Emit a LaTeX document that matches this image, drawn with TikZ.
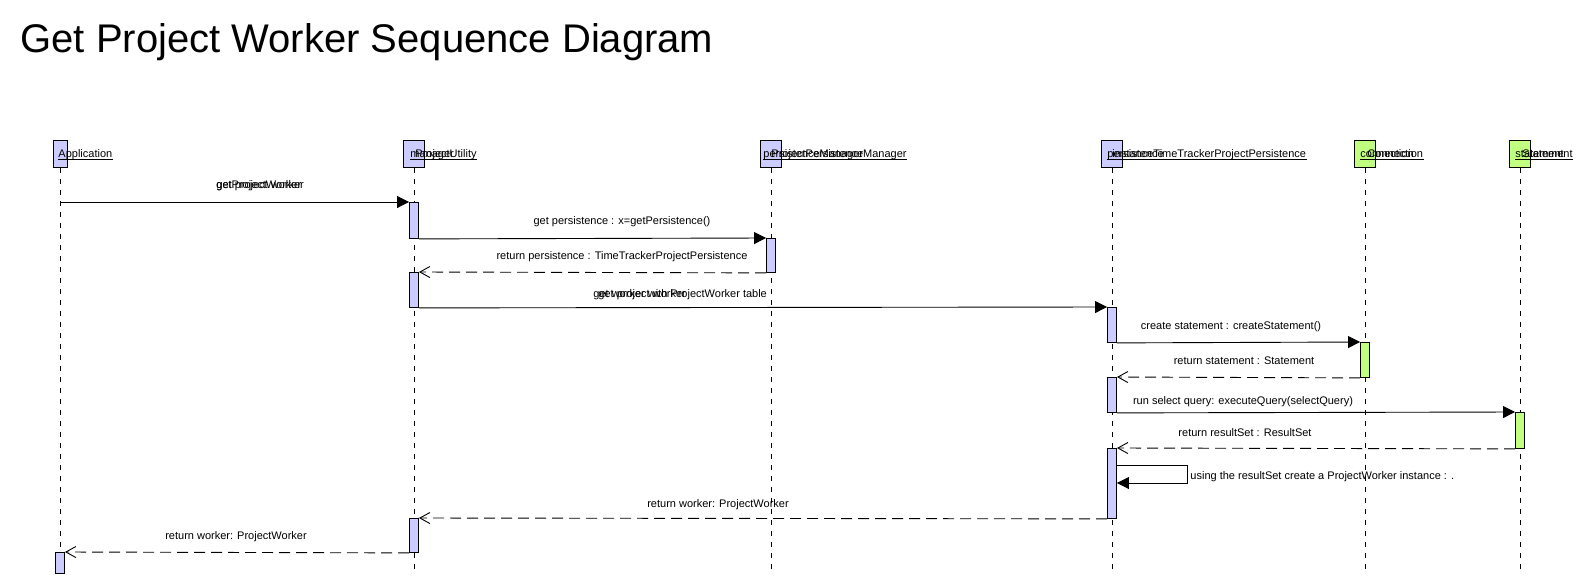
\documentclass[tikz,border=0pt]{standalone}
\usepackage{fontspec}
\setmainfont{Liberation Sans}
\usetikzlibrary{arrows.meta,positioning,calc}
\definecolor{objblue}{RGB}{204,204,255}
\definecolor{objgreen}{RGB}{192,255,128}

\begin{document}
\begin{tikzpicture}[
  x=1pt,y=-1pt,
  font=\fontsize{11}{13}\selectfont,
  line width=0.9pt,
  head/.style={draw,fill=objblue,minimum width=21pt,minimum height=27pt,inner sep=0pt,anchor=north},
  act/.style={draw,fill=objblue,minimum width=9pt,inner sep=0pt,anchor=north},
  life/.style={dash pattern=on 5pt off 6pt},
  hd/.style={anchor=base west,inner sep=0pt},
  lbl/.style={anchor=base,inner sep=0pt},
  call/.style={-{Triangle[length=12pt,width=12pt]}},
  ret/.style={dash pattern=on 11pt off 6pt,-{Straight Barb[length=10pt,width=11pt]}}
]
\useasboundingbox (0,0) rectangle (1580,584);
\node[anchor=base west,inner sep=0pt,font=\fontsize{40}{44}\selectfont] (title) at (20,52)
  {Get Project Worker Sequence Diagram};

% lifeline heads
\node[head,minimum width=14pt] (app) at (60,140) {};
\node[head] (mgr) at (414,140) {};
\node[head] (pm) at (771,140) {};
\node[head] (per) at (1112,140) {};
\node[head,fill=objgreen] (con) at (1365,140) {};
\node[head,fill=objgreen] (st) at (1520,140) {};
\coordinate (bot) at (0,573);
\foreach \n in {app,mgr,pm,per,con,st}
  \draw[life] (\n.south) -- (\n.south |- bot);

% head labels (printed on top of each other)
\node[hd] (appL) at (58,157) {Application};
\node[hd] (mgrL) at (410,157) {manager};
\node[hd] (mgrL2) at (415,157) {ProjectUtility};
\node[hd] (pmL) at (763,157) {persistenceManager};
\node[hd] (pmL2) at (771,157) {ProjectPersistenceManager};
\node[hd] (perL) at (1107,157) {persistence};
\node[hd] (perL2) at (1112,157) {instance};
\node[hd] (perL3) at (1153,157) {TimeTrackerProjectPersistence};
\node[hd] (conL) at (1360,157) {connection};
\node[hd] (conL2) at (1367,157) {Connection};
\node[hd] (stL) at (1515,157) {statement};
\node[hd] (stL2) at (1522,157) {Statement};
\draw[line width=0.7pt] ([yshift=-2pt]appL.base west) -- ([yshift=-2pt]appL.base east);
\draw[line width=0.7pt] ([yshift=-2pt]mgrL.base west) -- ([yshift=-2pt]mgrL2.base east);
\draw[line width=0.7pt] ([yshift=-2pt]pmL.base west) -- ([yshift=-2pt]pmL2.base east);
\draw[line width=0.7pt] ([yshift=-2pt]perL.base west) -- ([yshift=-2pt]perL3.base east);
\draw[line width=0.7pt] ([yshift=-2pt]conL.base west) -- ([yshift=-2pt]conL2.base east);
\draw[line width=0.7pt] ([yshift=-2pt]stL.base west) -- ([yshift=-2pt]stL2.base east);

% activations
\node[act,minimum height=36pt] (m1) at (414,202) {};
\node[act,minimum height=34pt] (pm1) at (771,238) {};
\node[act,minimum height=35pt] (m2) at (414,272) {};
\node[act,minimum height=35pt] (p1) at (1112,307) {};
\node[act,minimum height=35pt,fill=objgreen] (c1) at (1365,342) {};
\node[act,minimum height=35pt] (p2) at (1112,377) {};
\node[act,minimum height=36pt,fill=objgreen] (s1) at (1520,412) {};
\node[act,minimum height=70pt] (p3) at (1112,448) {};
\node[act,minimum height=34pt] (m3) at (414,518) {};
\node[act,minimum height=21pt] (a1) at (60,552) {};
\coordinate (a0) at (60,202);

% messages
\draw[call] (a0) -- (m1.north west);
\node[lbl,anchor=base west] at (216,188) {get project worker};
\node[lbl,anchor=base west] at (216,188) {getProjectWorker};
\draw[call] (m1.south east) -- (pm1.north west);
\node[lbl] at (622,224) {get persistence : x=getPersistence()};
\draw[ret] (pm1.south west) -- (m2.north east);
\node[lbl] at (622,259) {return persistence : TimeTrackerProjectPersistence};
\draw[call] (m2.south east) -- (p1.north west);
\node[lbl,anchor=base west] at (593,297) {get worker with ProjectWorker table};
\node[lbl,anchor=base west] at (598,297) {get project worker};
\draw[call] (p1.south east) -- (c1.north west);
\node[lbl] at (1231,329) {create statement : createStatement()};
\draw[ret] (c1.south west) -- (p2.north east);
\node[lbl] at (1244,364) {return statement : Statement};
\draw[call] (p2.south east) -- (s1.north west);
\node[lbl] at (1243,404) {run select query: executeQuery(selectQuery)};
\draw[ret] (s1.south west) -- (p3.north east);
\node[lbl] at (1245,436) {return resultSet : ResultSet};
\draw[call] ([yshift=-17pt]p3.north east) -- ++(70,0) |- ([yshift=-35pt]p3.north east);
\node[lbl,anchor=base west] at (1190,479) {using the resultSet create a ProjectWorker instance : .};
\draw[ret] (p3.south west) -- (m3.north east);
\node[lbl] at (718,507) {return worker: ProjectWorker};
\draw[ret] (m3.south west) -- (a1.north east);
\node[lbl] at (236,539) {return worker: ProjectWorker};
\end{tikzpicture}
\end{document}
